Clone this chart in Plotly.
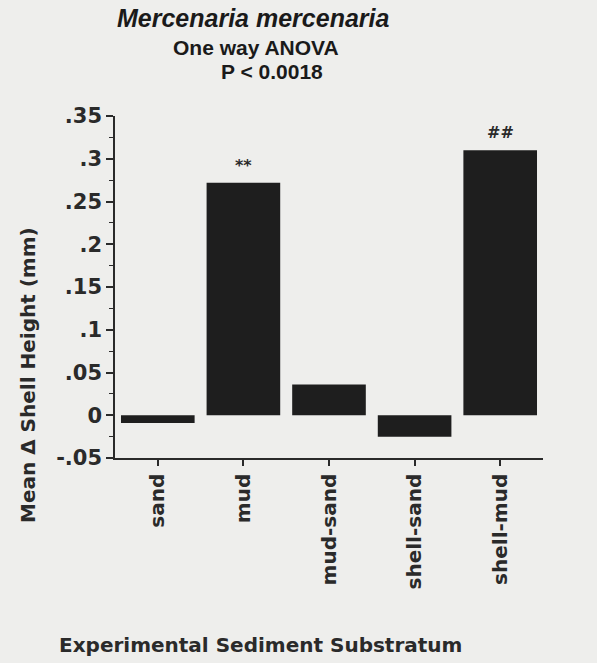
import plotly.graph_objects as go

categories = ["sand", "mud", "mud-sand", "shell-sand", "shell-mud"]
mean_change = [-0.009, 0.272, 0.036, -0.025, 0.31]
marks = ["", "**", "", "", "##"]
y_tickvals = [-0.05, 0, 0.05, 0.1, 0.15, 0.2, 0.25, 0.3, 0.35]
y_ticktext = ["-.05", "0", ".05", ".1", ".15", ".2", ".25", ".3", ".35"]

W, H = 597, 663
L, R, T, B = 115, 54, 116, 205
PW, PH = W - L - R, H - T - B

def px(xp):
    return (xp - L) / PW

def py(yp):
    return (H - B - yp) / PH

bg = "#eeeeec"
ink = "#2a2a2a"
lab_font = "DejaVu Sans"

fig = go.Figure()
fig.add_trace(go.Bar(
    x=categories, y=mean_change, width=0.86,
    marker=dict(color="#1e1e1e", line=dict(width=0)),
))

annos = []
for c, v, m in zip(categories, mean_change, marks):
    if m:
        annos.append(dict(x=c, y=max(v, 0), xref="x", yref="y", text=m,
                          showarrow=False, yanchor="bottom", yshift=6,
                          font=dict(family=lab_font, size=16, color=ink, weight="bold")))

annos += [
    dict(x=px(253), y=py(18), xref="paper", yref="paper", text="<i>Mercenaria mercenaria</i>",
         showarrow=False, xanchor="center", yanchor="middle",
         font=dict(family="Liberation Sans", size=25, color="#1a1a1a", weight="bold")),
    dict(x=px(256), y=py(48), xref="paper", yref="paper", text="One way ANOVA",
         showarrow=False, xanchor="center", yanchor="middle",
         font=dict(family="Liberation Sans", size=21, color="#1a1a1a", weight="bold")),
    dict(x=px(272), y=py(72), xref="paper", yref="paper", text="P &lt; 0.0018",
         showarrow=False, xanchor="center", yanchor="middle",
         font=dict(family="Liberation Sans", size=21, color="#1a1a1a", weight="bold")),
    dict(x=px(28), y=py(375), xref="paper", yref="paper", text="Mean Δ Shell Height (mm)",
         showarrow=False, xanchor="center", yanchor="middle", textangle=-90,
         font=dict(family=lab_font, size=20, color=ink, weight="bold")),
    dict(x=px(260), y=py(645), xref="paper", yref="paper", text="Experimental Sediment Substratum",
         showarrow=False, xanchor="center", yanchor="middle",
         font=dict(family=lab_font, size=20, color=ink, weight="bold")),
]

fig.update_layout(
    width=W, height=H,
    margin=dict(l=L, r=R, t=T, b=B, pad=0),
    paper_bgcolor=bg, plot_bgcolor=bg,
    showlegend=False,
    annotations=annos,
    bargap=0.14,
)
fig.update_xaxes(
    range=[-0.5, 4.5], showline=True, linecolor=ink, linewidth=1.5,
    ticks="outside", ticklen=6, tickwidth=1.5, tickcolor=ink,
    tickangle=-90, showgrid=False, zeroline=False,
    tickfont=dict(family=lab_font, size=20, color=ink, weight="bold"),
)
fig.update_yaxes(
    range=[-0.05, 0.35], showline=True, linecolor=ink, linewidth=1.5,
    tickvals=y_tickvals, ticktext=y_ticktext,
    ticks="outside", ticklen=7, tickwidth=1.5, tickcolor=ink,
    minor=dict(dtick=0.025, tick0=0, ticks="outside", ticklen=4, tickwidth=1.2, tickcolor=ink),
    showgrid=False, zeroline=False,
    tickfont=dict(family=lab_font, size=21, color=ink, weight="bold"),
)

fig.write_html(
    "out.html",
    config={"displayModeBar": False},
    post_script="document.body.style.margin='0';document.body.style.background='%s';" % bg,
)
